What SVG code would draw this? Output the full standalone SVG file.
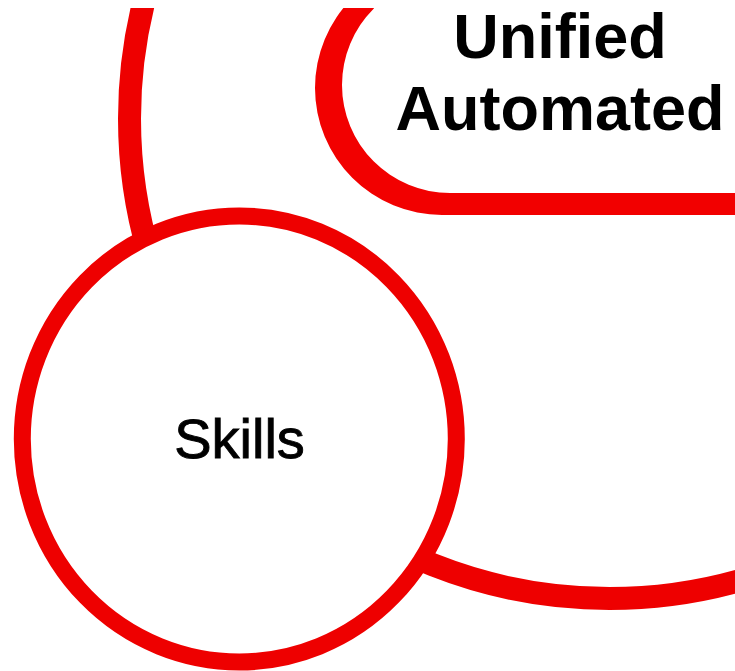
<svg xmlns="http://www.w3.org/2000/svg" width="735" height="671" viewBox="0 0 735 671">
  <style>
    .ring { fill: none; stroke: #ee0000; stroke-width: 23; }
    .node { fill: #ffffff; stroke: #ee0000; stroke-width: 17; }
    .pill { fill: #f20000; fill-rule: evenodd; }
    .lbl { font-family: "Liberation Sans", Arial, sans-serif; fill: #000000; text-anchor: middle; }
    .bold { font-weight: 700; font-size: 63px; }
    .reg { font-weight: 400; font-size: 56px; stroke: #000000; stroke-width: 0.9; }
  </style>
  <defs>
    <clipPath id="view">
      <rect x="0" y="8" width="735" height="663"/>
    </clipPath>
  </defs>
  <rect x="0" y="0" width="735" height="671" fill="#ffffff"/>
  <g clip-path="url(#view)">
    <g id="connectors">
      <circle class="ring" cx="609.5" cy="118.5" r="480"/>
    </g>
    <g id="node-unified-automated">
      <path class="pill" d="M 760 215 H 442 A 127 127 0 0 1 442 -39 H 760 Z M 760 193 H 450 A 108 108 0 0 1 450 -23 H 760 Z"/>
      <text class="lbl bold" x="560" y="58">Unified</text>
      <text class="lbl bold" x="560" y="130">Automated</text>
    </g>
    <g id="node-skills">
      <ellipse class="node" cx="239.3" cy="439" rx="217" ry="223"/>
      <text class="lbl reg" x="239.5" y="458">Skills</text>
    </g>
  </g>
</svg>
